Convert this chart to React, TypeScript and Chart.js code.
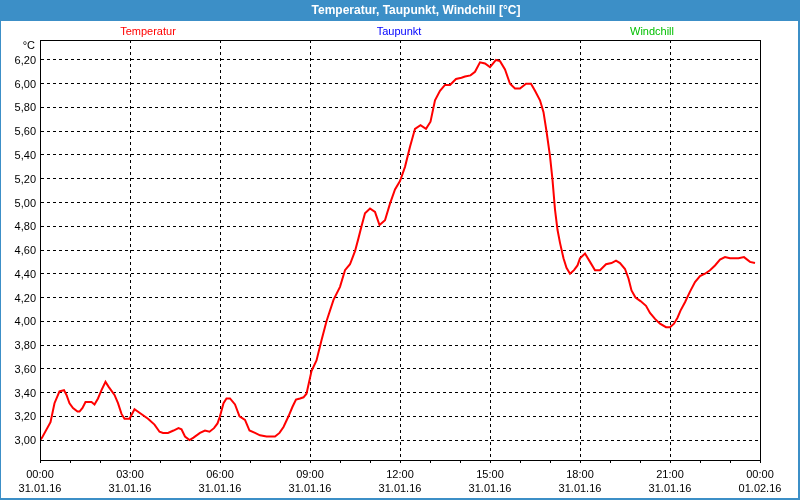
import React, { useEffect, useRef } from 'react';
import { Chart, registerables } from 'chart.js';

Chart.register(...registerables);

// ---- data ----
const chartTitle = 'Temperatur, Taupunkt, Windchill [°C]';
const yUnit = '°C';
const seriesLabels = ['Temperatur', 'Taupunkt', 'Windchill'];
const seriesColors = ['#ff0000', '#0000ff', '#00c000'];

// minutes since 31.01.16 00:00
const timeMinutes = [
  0, 4, 21, 29, 39, 48, 53, 59, 66, 75, 79, 85, 91, 103, 109, 116, 123, 131, 137, 149,
  156, 163, 169, 179, 189, 199, 216, 229, 239, 246, 256, 267, 277, 283, 290, 299, 307, 320, 330, 339,
  348, 355, 360, 367, 373, 380, 390, 399, 410, 419, 430, 440, 453, 470, 479, 487, 497, 505, 512, 520,
  527, 533, 543, 553, 563, 573, 587, 600, 610, 620, 630, 637, 643, 650, 660, 670, 679, 690, 700, 710,
  720, 730, 740, 750, 761, 772, 781, 790, 800, 810, 820, 832, 843, 850, 861, 870, 880, 890, 900, 912,
  920, 930, 940, 950, 960, 972, 982, 990, 1000, 1007, 1013, 1020, 1025, 1030, 1035, 1040, 1047, 1053, 1060, 1068,
  1075, 1080, 1090, 1100, 1110, 1120, 1132, 1143, 1152, 1160, 1170, 1177, 1183, 1191, 1201, 1212, 1220, 1230, 1240, 1252,
  1260, 1268, 1275, 1281, 1290, 1300, 1310, 1320, 1330, 1340, 1350, 1360, 1370, 1380, 1397, 1408, 1420, 1430,
];
const temperatur = [
  3.0, 3.02, 3.15, 3.31, 3.41, 3.42, 3.38, 3.31, 3.27, 3.24, 3.24, 3.27, 3.32, 3.32, 3.3, 3.35, 3.42, 3.49, 3.45, 3.38,
  3.31, 3.22, 3.18, 3.18, 3.26, 3.23, 3.18, 3.13, 3.07, 3.06, 3.06, 3.08, 3.1, 3.09, 3.03, 3.0, 3.02, 3.06, 3.08, 3.07,
  3.1, 3.14, 3.2, 3.31, 3.35, 3.35, 3.3, 3.2, 3.17, 3.08, 3.06, 3.04, 3.03, 3.03, 3.06, 3.11, 3.2, 3.28, 3.34, 3.35,
  3.36, 3.39, 3.58, 3.67, 3.84, 4.0, 4.18, 4.29, 4.43, 4.48, 4.59, 4.7, 4.8, 4.91, 4.95, 4.92, 4.81, 4.85, 4.99, 5.11,
  5.18, 5.3, 5.47, 5.62, 5.65, 5.62, 5.68, 5.86, 5.94, 5.99, 5.99, 6.04, 6.05, 6.06, 6.07, 6.1, 6.18, 6.17, 6.14, 6.2,
  6.19, 6.12, 6.0, 5.96, 5.96, 6.0, 6.0, 5.94, 5.86, 5.76, 5.6, 5.39, 5.19, 4.94, 4.77, 4.66, 4.53, 4.45, 4.4, 4.43,
  4.47, 4.53, 4.57, 4.5, 4.43, 4.43, 4.48, 4.49, 4.51, 4.49, 4.44, 4.36, 4.26, 4.2, 4.17, 4.13, 4.07, 4.02, 3.98, 3.95,
  3.95, 3.98, 4.03, 4.09, 4.16, 4.25, 4.33, 4.38, 4.4, 4.43, 4.47, 4.52, 4.54, 4.53, 4.53, 4.54, 4.5, 4.49,
];
const taupunkt: number[] = [];
const windchill: number[] = [];

const yMin = 2.832;
const yMax = 6.368;
const yTickValues = [3.0, 3.2, 3.4, 3.6, 3.8, 4.0, 4.2, 4.4, 4.6, 4.8, 5.0, 5.2, 5.4, 5.6, 5.8, 6.0, 6.2];

const xMin = 0;
const xMax = 1440;
const xMinorTickMinutes = [
  0, 60, 120, 180, 240, 300, 360, 420, 480, 540, 600, 660, 720, 780, 840, 900, 960, 1020, 1080, 1140, 1200, 1260, 1320, 1380, 1440,
];
const xMajorTickMinutes = [0, 180, 360, 540, 720, 900, 1080, 1260, 1440];
const xTickTimes = ['00:00', '03:00', '06:00', '09:00', '12:00', '15:00', '18:00', '21:00', '00:00'];
const xTickDates = ['31.01.16', '31.01.16', '31.01.16', '31.01.16', '31.01.16', '31.01.16', '31.01.16', '31.01.16', '01.02.16'];

const FONT = '"Liberation Sans", Arial, sans-serif';
const FRAME_BLUE = '#3c8fc7';

const decorPlugin = {
  id: 'decor',
  beforeDraw(chart: any) {
    const { ctx, width, height } = chart;
    ctx.save();
    ctx.fillStyle = '#ffffff';
    ctx.fillRect(0, 0, width, height);
    ctx.fillStyle = FRAME_BLUE;
    ctx.fillRect(0, 0, width, 21);
    ctx.fillRect(0, 0, 1, height);
    ctx.fillRect(width - 2, 0, 2, height);
    ctx.fillRect(0, height - 2, width, 2);
    ctx.restore();
  },
  afterDraw(chart: any) {
    const { ctx, chartArea } = chart;
    const { left, top, right, bottom } = chartArea;
    ctx.save();
    // plot frame
    ctx.strokeStyle = '#000';
    ctx.lineWidth = 1;
    ctx.setLineDash([]);
    ctx.strokeRect(Math.round(left) + 0.5, Math.round(top) + 0.5, Math.round(right - left), Math.round(bottom - top));
    // title
    ctx.fillStyle = '#ffffff';
    ctx.font = 'bold 12px ' + FONT;
    ctx.textAlign = 'center';
    ctx.textBaseline = 'middle';
    ctx.fillText(chartTitle, 416, 10.5);
    // legend
    ctx.font = '11px ' + FONT;
    const centers = [148, 399, 652];
    chart.data.datasets.forEach((ds: any, i: number) => {
      ctx.fillStyle = ds.borderColor;
      ctx.fillText(ds.label, centers[i], 32);
    });
    // unit
    ctx.fillStyle = '#000';
    ctx.textAlign = 'right';
    ctx.fillText(yUnit, left - 5, 46);
    ctx.restore();
  },
};

export default function App() {
  const canvasRef = useRef<HTMLCanvasElement | null>(null);

  useEffect(() => {
    if (!canvasRef.current) return;
    const chart = new Chart(canvasRef.current, {
      type: 'line',
      data: {
        datasets: [
          {
            label: seriesLabels[0],
            data: timeMinutes.map((t, i) => ({ x: t, y: temperatur[i] })),
            borderColor: seriesColors[0],
            backgroundColor: seriesColors[0],
            borderWidth: 2,
            pointRadius: 0,
            tension: 0,
          },
          {
            label: seriesLabels[1],
            data: taupunkt.map((v, i) => ({ x: timeMinutes[i], y: v })),
            borderColor: seriesColors[1],
            backgroundColor: seriesColors[1],
            borderWidth: 2,
            pointRadius: 0,
          },
          {
            label: seriesLabels[2],
            data: windchill.map((v, i) => ({ x: timeMinutes[i], y: v })),
            borderColor: seriesColors[2],
            backgroundColor: seriesColors[2],
            borderWidth: 2,
            pointRadius: 0,
          },
        ],
      },
      options: {
        animation: false,
        responsive: false,
        maintainAspectRatio: false,
        layout: { padding: { left: 0, top: 40, right: 40, bottom: 0 } },
        plugins: {
          legend: { display: false },
          title: { display: false },
          tooltip: { enabled: false },
        },
        scales: {
          x: {
            type: 'linear',
            min: xMin,
            max: xMax,
            afterBuildTicks: (scale: any) => {
              scale.ticks = xMinorTickMinutes.map((v) => ({ value: v }));
            },
            afterFit: (scale: any) => {
              scale.height = 40;
            },
            ticks: {
              autoSkip: false,
              maxRotation: 0,
              minRotation: 0,
              padding: 5,
              color: '#000',
              font: { family: FONT, size: 11, lineHeight: 1.3 },
              callback: (value: any) => {
                const idx = xMajorTickMinutes.indexOf(Number(value));
                return idx >= 0 ? [xTickTimes[idx], xTickDates[idx]] : '';
              },
            },
            grid: {
              color: (ctx: any) =>
                ctx.tick && xMajorTickMinutes.indexOf(ctx.tick.value) >= 0 ? '#000' : 'rgba(0,0,0,0)',
              lineWidth: 1,
              tickColor: '#000',
              tickLength: 3,
              tickBorderDash: [],
              drawTicks: true,
              borderDash: [3, 3],
            } as any,
            border: { display: true, color: '#000', width: 1, dash: [3, 3] },
          },
          y: {
            type: 'linear',
            min: yMin,
            max: yMax,
            afterBuildTicks: (scale: any) => {
              scale.ticks = yTickValues.map((v) => ({ value: v }));
            },
            afterFit: (scale: any) => {
              scale.width = 40;
            },
            ticks: {
              padding: 4,
              labelOffset: 1,
              color: '#000',
              font: { family: FONT, size: 11 },
              callback: (value: any) => Number(value).toFixed(2).replace('.', ','),
            },
            grid: {
              color: '#000',
              lineWidth: 1,
              drawTicks: false,
              borderDash: [3, 3],
            } as any,
            border: { display: true, color: '#000', width: 1, dash: [3, 3] },
          },
        },
      } as any,
      plugins: [decorPlugin],
    });
    return () => chart.destroy();
  }, []);

  return (
    <div style={{ position: 'absolute', left: 0, top: 0, width: 800, height: 500 }}>
      <canvas ref={canvasRef} width={800} height={500} style={{ width: 800, height: 500, display: 'block' }} />
    </div>
  );
}
